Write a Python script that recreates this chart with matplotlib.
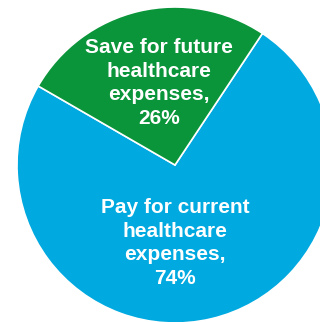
import matplotlib.pyplot as plt

labels = ["Pay for current\nhealthcare\nexpenses,\n74%", "Save for future\nhealthcare\nexpenses,\n26%"]
shares = [74, 26]
colors = ["#00A9E0", "#0A953A"]

fig = plt.figure(figsize=(3.2, 3.22), dpi=100)
ax = fig.add_axes([0, 0, 1, 1])

wedges, _ = ax.pie(shares, colors=colors, startangle=150, counterclock=True,
                   center=(175, 157), radius=158,
                   wedgeprops=dict(edgecolor="white", linewidth=1.2))

ax.set_xlim(0, 320)
ax.set_ylim(0, 322)
ax.set_aspect("equal")
ax.axis("off")

# label positions inside each slice
label_xy = [(175, 79), (159, 239)]
for text, (x, y) in zip(labels, label_xy):
    ax.text(x, y, text, ha="center", va="center", color="white",
            fontsize=15, fontweight="bold", family="Liberation Sans",
            linespacing=1.32)

fig.savefig("out.png", dpi=100)
